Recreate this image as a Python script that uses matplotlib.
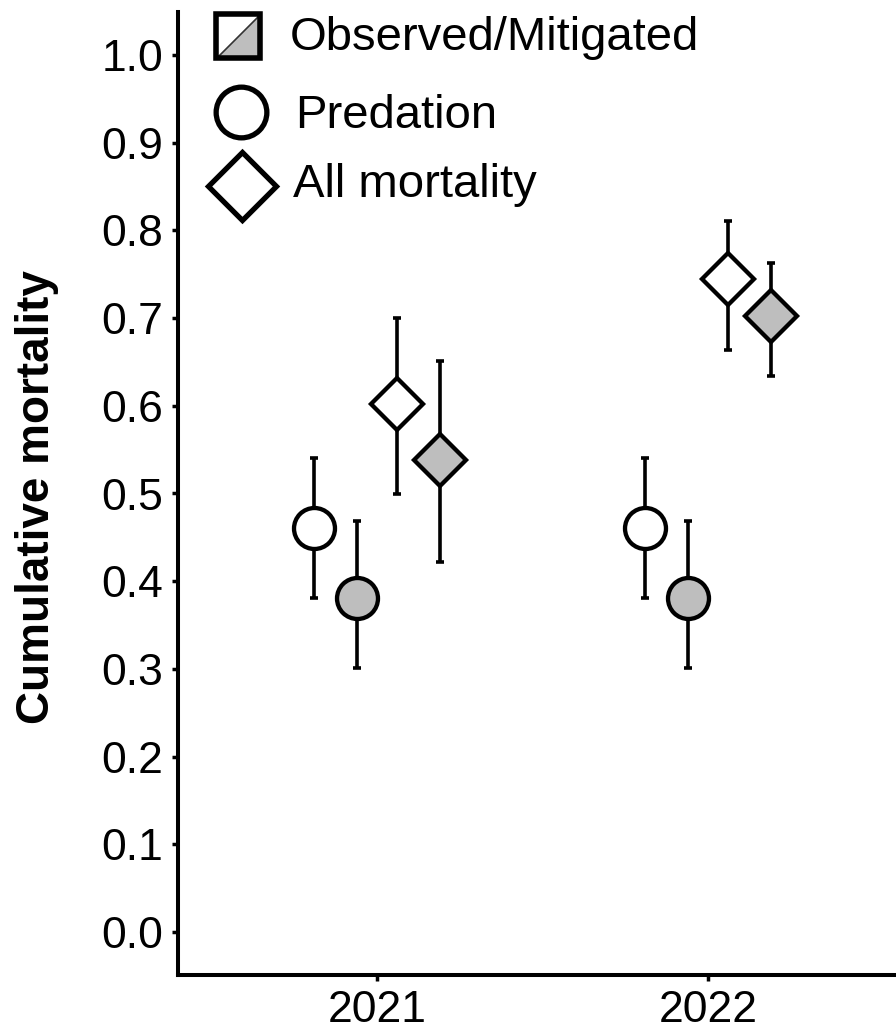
import matplotlib
matplotlib.use("Agg")
from matplotlib import pyplot as plt
from matplotlib.markers import MarkerStyle
from matplotlib.path import Path
import numpy as np

plt.rcParams["font.family"] = ["Liberation Sans", "DejaVu Sans"]

# data
years = ["2021", "2022"]
groups = ["Predation observed", "Predation mitigated", "All observed", "All mitigated"]
offsets = [-0.19, -0.06, 0.06, 0.19]
markers = ["o", "o", "D", "D"]
fills = ["white", "#bebebe", "white", "#bebebe"]

mean = {
    "Predation observed": [0.461, 0.461],
    "Predation mitigated": [0.381, 0.381],
    "All observed": [0.602, 0.744],
    "All mitigated": [0.538, 0.702],
}
lower = {
    "Predation observed": [0.381, 0.381],
    "Predation mitigated": [0.301, 0.301],
    "All observed": [0.499, 0.664],
    "All mitigated": [0.422, 0.634],
}
upper = {
    "Predation observed": [0.540, 0.540],
    "Predation mitigated": [0.469, 0.469],
    "All observed": [0.700, 0.811],
    "All mitigated": [0.651, 0.763],
}

fig = plt.figure(figsize=(8.96, 10.32), dpi=100)
ax = fig.add_axes([178 / 896, 57 / 1032, 718 / 896, 963 / 1032])

x = np.arange(1, len(years) + 1)
for g, off, m, fc in zip(groups, offsets, markers, fills):
    y = np.array(mean[g])
    err = [y - np.array(lower[g]), np.array(upper[g]) - y]
    ax.errorbar(x + off, y, yerr=err, fmt="none", ecolor="black",
                elinewidth=2.6, capsize=3.2, capthick=2.6, zorder=2)
    ms = 29.5 if m == "o" else 26.5
    ax.plot(x + off, y, linestyle="none",
            marker=MarkerStyle(m, joinstyle="miter"), markersize=ms,
            markerfacecolor=fc, markeredgecolor="black",
            markeredgewidth=3.1, zorder=3)

ax.set_xlim(0.399, 2.568)
ax.set_ylim(-0.049, 1.049)
ax.set_xticks(x)
ax.set_xticklabels(years)
ax.set_yticks(np.arange(0, 1.01, 0.1))
ax.set_yticklabels([f"{v:.1f}" for v in np.arange(0, 1.01, 0.1)])
ax.tick_params(labelsize=32, width=2.5, length=4.5, pad=6, color="black")

for s in ["top", "right"]:
    ax.spines[s].set_visible(False)
for s in ["left", "bottom"]:
    ax.spines[s].set_linewidth(2.9)

ax.set_ylabel("Cumulative mortality", fontsize=33, fontweight="bold", va="center")
ax.yaxis.set_label_coords(-0.197, 0.496)

# legend drawn by hand
tri = MarkerStyle(Path([(-1, -1), (1, -1), (1, 1), (-1, -1)]))
diag = MarkerStyle(Path([(-1, -1), (1, 1)], [Path.MOVETO, Path.LINETO]))
kw = dict(transform=ax.transAxes, clip_on=False, linestyle="none", zorder=5)
sq_x, sq_y = 0.0836, 0.975
ax.plot(sq_x, sq_y, marker="s", markersize=32, markerfacecolor="white",
        markeredgewidth=0, **kw)
ax.plot(sq_x, sq_y, marker=tri, markersize=32, markerfacecolor="#bebebe",
        markeredgewidth=0, **kw)
ax.plot(sq_x, sq_y, marker=diag, markersize=32, markeredgecolor="#333333",
        markeredgewidth=1.2, **kw)
ax.plot(sq_x, sq_y, marker=MarkerStyle("s", joinstyle="miter"), markersize=32,
        markerfacecolor="none", markeredgecolor="black", markeredgewidth=4.0, **kw)
ax.plot(0.0877, 0.896, marker="o", markersize=36.5, markerfacecolor="white",
        markeredgecolor="black", markeredgewidth=3.8, **kw)
ax.plot(0.0891, 0.819, marker=MarkerStyle("D", joinstyle="miter"), markersize=34.5,
        markerfacecolor="white", markeredgecolor="black", markeredgewidth=3.8, **kw)

leg_labels = ["Observed/Mitigated", "Predation", "All mortality"]
leg_pos = [(0.156, 0.9605), (0.163, 0.8795), (0.160, 0.808)]
for lab, (tx, ty) in zip(leg_labels, leg_pos):
    ax.text(tx, ty, lab, transform=ax.transAxes, fontsize=34, va="baseline",
            ha="left")

fig.savefig("out.png", dpi=100)
